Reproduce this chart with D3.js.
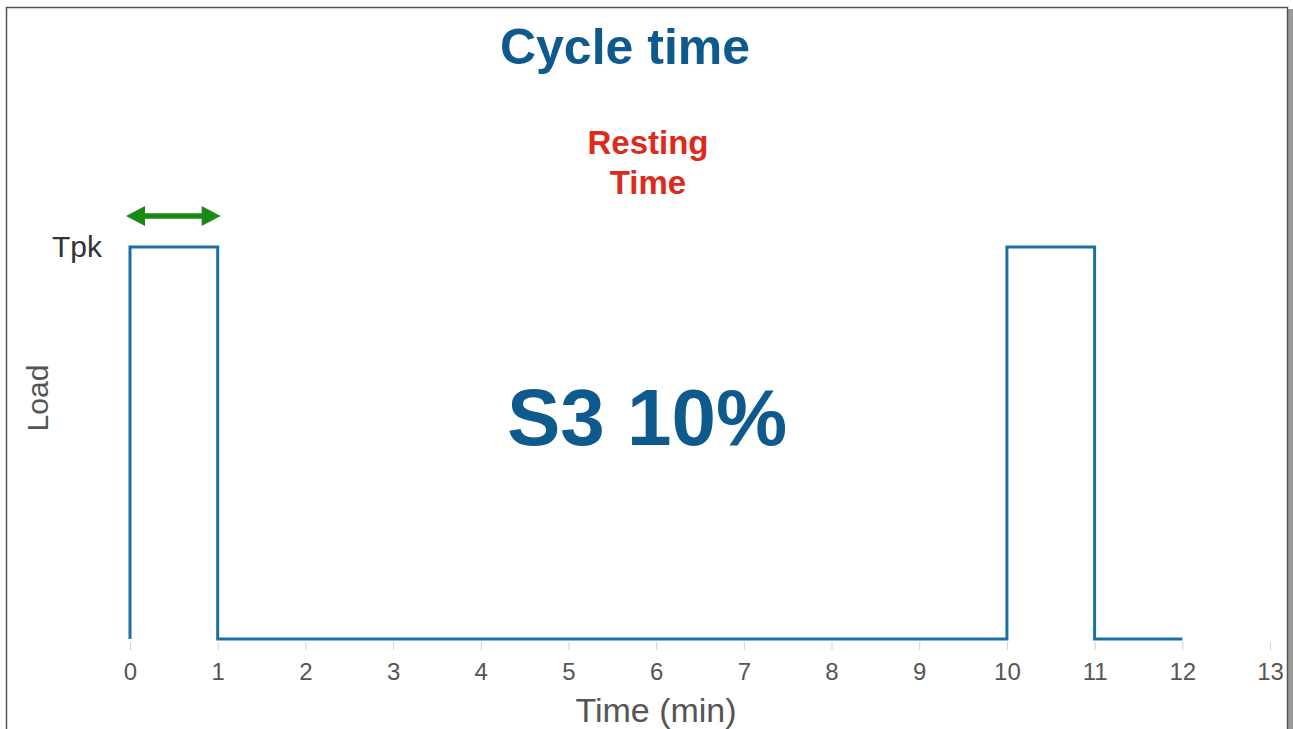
<!DOCTYPE html>
<html>
<head>
<meta charset="utf-8">
<script src="https://cdn.jsdelivr.net/npm/d3@7"></script>
<style>
  html, body { margin: 0; padding: 0; background: #fff; }
  svg { display: block; }
  text { font-family: "Liberation Sans", Arial, sans-serif; }
</style>
</head>
<body>
<svg id="chart" width="1293" height="729"></svg>
<script>
// Duty-cycle profile (S3, 10%): load switches on for 1 min every 10 min
const times = [0, 0, 1, 1, 10, 10, 11, 11, 12];
const loads = [0, 1, 1, 0, 0, 1, 1, 0, 0];
const tickValues = [0, 1, 2, 3, 4, 5, 6, 7, 8, 9, 10, 11, 12, 13];
const peakLabel = "Tpk";
const title = "Cycle time";
const restLabel = ["Resting", "Time"];
const dutyLabel = "S3 10%";
const onSpan = [0, 1]; // green arrow marks the first on-period

const svg = d3.select("#chart");
const W = 1293, H = 729;

// Frame with a soft shadow on the right
svg.append("rect").attr("x", 1288).attr("y", 9).attr("width", 5).attr("height", H)
  .attr("fill", "#9a9a9a");
svg.append("rect").attr("x", 6.5).attr("y", 7.5).attr("width", 1281).attr("height", H + 10)
  .attr("fill", "#fff").attr("stroke", "#555").attr("stroke-width", 1.5);

const x = d3.scaleLinear().domain([0, 13]).range([130, 1270]);
const y = d3.scaleLinear().domain([0, 1]).range([639, 247]);

// X axis: small light ticks, no domain line
const xAxis = d3.axisBottom(x).tickValues(tickValues).tickSize(8).tickPadding(13)
  .tickFormat(d3.format("d"));
const gx = svg.append("g").attr("transform", "translate(0,642)").call(xAxis);
gx.select(".domain").remove();
gx.selectAll(".tick line").attr("stroke", "#d0d0d0").attr("stroke-width", 1);
gx.selectAll(".tick text").attr("fill", "#555").attr("font-size", 24)
  .attr("font-family", "'Liberation Sans', Arial, sans-serif");

// Axis titles
svg.append("text").attr("x", 656).attr("y", 722).attr("text-anchor", "middle")
  .attr("font-size", 34).attr("fill", "#555").text("Time (min)");
svg.append("text").attr("transform", "translate(48,398) rotate(-90)")
  .attr("text-anchor", "middle").attr("font-size", 30).attr("fill", "#555").text("Load");
svg.append("text").attr("x", 102).attr("y", 257).attr("text-anchor", "end")
  .attr("font-size", 30).attr("fill", "#333").text(peakLabel);

// Load profile
const line = d3.line().x((d, i) => x(times[i])).y(d => y(d)).curve(d3.curveLinear);
svg.append("path").datum(loads).attr("d", line)
  .attr("fill", "none").attr("stroke", "#1a6fa3").attr("stroke-width", 3)
  .attr("stroke-linejoin", "miter");

// Double-headed arrow over the on-period
const ay = 216;
const ax0 = x(onSpan[0]) - 4, ax1 = x(onSpan[1]) + 3;
const head = 19, hh = 10, sh = 2.7;
svg.append("path")
  .attr("d", `M${ax0},${ay} L${ax0 + head},${ay - hh} L${ax0 + head},${ay - sh} L${ax1 - head},${ay - sh} L${ax1 - head},${ay - hh} L${ax1},${ay} L${ax1 - head},${ay + hh} L${ax1 - head},${ay + sh} L${ax0 + head},${ay + sh} L${ax0 + head},${ay + hh} Z`)
  .attr("fill", "#1a8a17");

// Titles and annotations
svg.append("text").attr("x", 625).attr("y", 64).attr("text-anchor", "middle")
  .attr("font-size", 50).attr("font-weight", "bold").attr("fill", "#0f5a8c").text(title);
restLabel.forEach((t, i) => {
  svg.append("text").attr("x", 648).attr("y", 154 + i * 40).attr("text-anchor", "middle")
    .attr("font-size", 33).attr("font-weight", "bold").attr("fill", "#dd2a1b").text(t);
});
svg.append("text").attr("x", 647).attr("y", 445).attr("text-anchor", "middle")
  .attr("font-size", 80).attr("font-weight", "bold").attr("fill", "#0f5a8c").text(dutyLabel);
</script>
</body>
</html>
